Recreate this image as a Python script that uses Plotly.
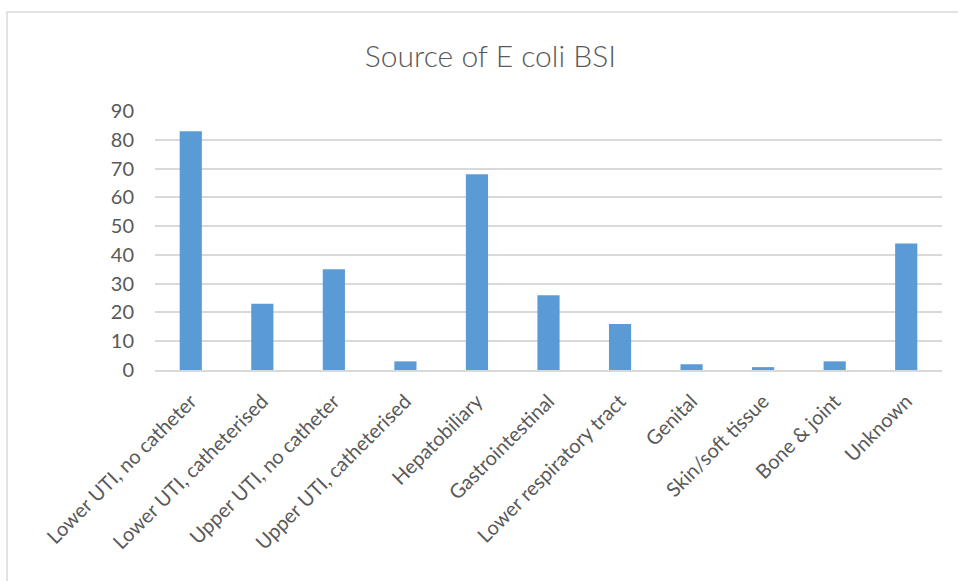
import plotly.graph_objects as go

# Source of E. coli bloodstream infections (counts)
sources = [
    "Lower UTI, no catheter",
    "Lower UTI, catheterised",
    "Upper UTI, no catheter",
    "Upper UTI, catheterised",
    "Hepatobiliary",
    "Gastrointestinal",
    "Lower respiratory tract",
    "Genital",
    "Skin/soft tissue",
    "Bone & joint",
    "Unknown",
]
counts = [83, 23, 35, 3, 68, 26, 16, 2, 1, 3, 44]
y_ticks = [0, 10, 20, 30, 40, 50, 60, 70, 80, 90]

TEXT = "#595959"
FONT = "Lato, 'Open Sans', sans-serif"

fig = go.Figure(
    go.Bar(
        x=sources,
        y=counts,
        marker=dict(color="#5B9BD5", line=dict(color="#5B9BD5", width=0)),
        width=0.31,
        hoverinfo="x+y",
    )
)

fig.update_layout(
    width=958,
    height=581,
    margin=dict(l=155, r=16, t=111, b=211),
    paper_bgcolor="white",
    plot_bgcolor="white",
    showlegend=False,
    title=dict(
        text="Source of E coli BSI",
        x=0.512,
        xanchor="center",
        y=0.902,
        yanchor="middle",
        font=dict(family=FONT, size=30, color=TEXT, weight=300),
    ),
    font=dict(family=FONT, color=TEXT),
    xaxis=dict(
        tickangle=-45,
        tickfont=dict(family=FONT, size=20, color=TEXT),
        showgrid=False,
        showline=True,
        linecolor="#D9D9D9",
        linewidth=1.5,
        ticks="",
        ticklabelstandoff=10,
        range=[-0.5, len(sources) - 0.5],
    ),
    yaxis=dict(
        range=[0, 90],
        tickvals=y_ticks,
        tickfont=dict(family=FONT, size=20, color=TEXT),
        showgrid=True,
        gridcolor="#D9D9D9",
        gridwidth=1.5,
        zeroline=False,
        showline=False,
        ticks="",
        ticklabelstandoff=20,
    ),
    shapes=[
        dict(
            type="rect",
            xref="paper",
            yref="paper",
            x0=-0.188,
            x1=1.2,
            y0=-1.2,
            y1=1.382,
            line=dict(color="#D9D9D9", width=1.5),
            fillcolor="rgba(0,0,0,0)",
            layer="below",
        )
    ],
)

fig.write_html("out.html")
